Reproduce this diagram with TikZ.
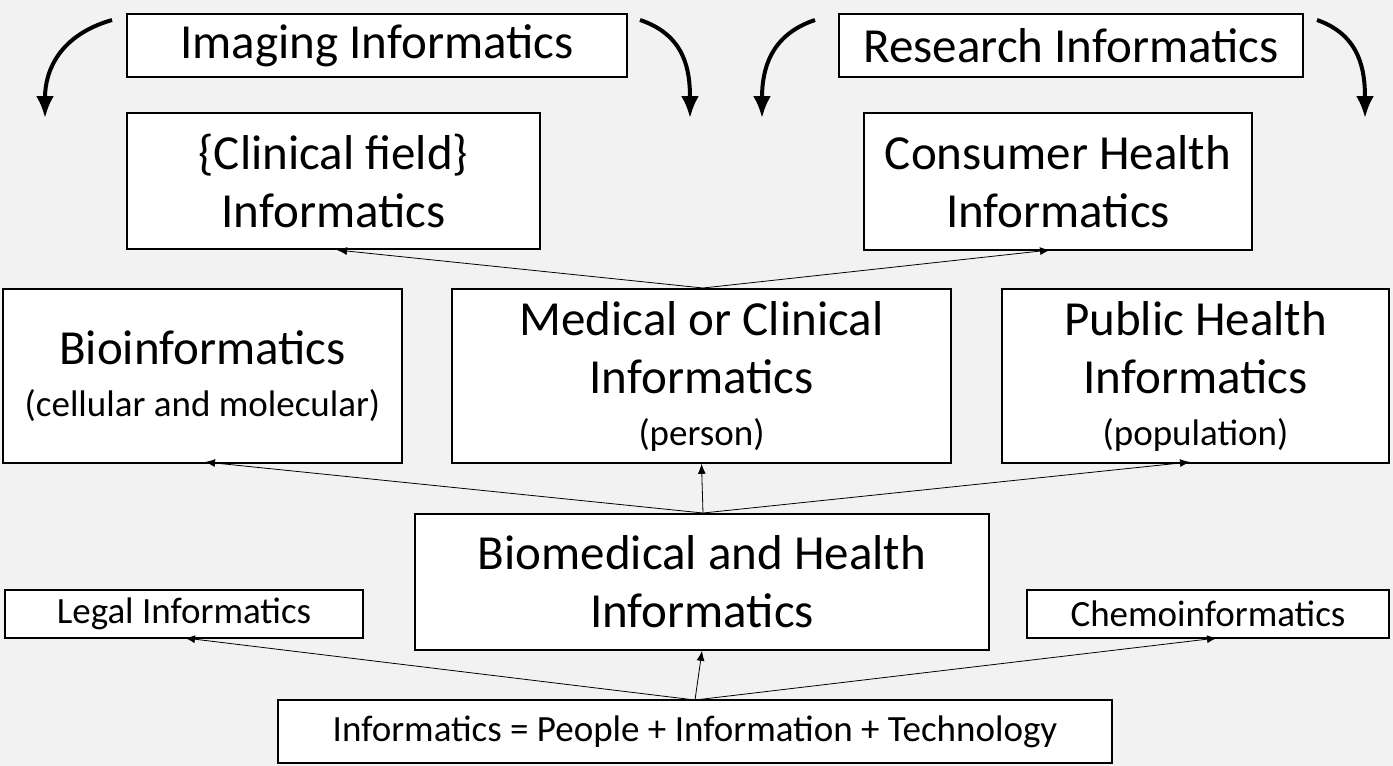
\documentclass[tikz,border=0pt]{standalone}
\usepackage{fontspec}
\setmainfont{Carlito}
\usetikzlibrary{arrows.meta}
\tikzset{
  box/.style={draw,thick,fill=white,align=center,inner sep=0pt},
  big/.style={font=\fontsize{24.5}{29}\selectfont},
  small/.style={font=\fontsize{18.5}{22}\selectfont},
  link/.style={-{Latex[length=5pt,width=4pt]},thin},
  swing/.style={-{Latex[length=11pt,width=9pt]},line width=2pt}
}
\newcommand{\sublabel}[1]{{\fontsize{18.5}{22}\selectfont #1}}
\begin{document}
\begin{tikzpicture}[x=0.5pt,y=-0.5pt]
\fill[gray!10] (0,0) rectangle (1393,766);
\useasboundingbox (0,0) rectangle (1393,766);
% top row
\node[box,big,minimum width=250pt,minimum height=31.5pt] (imaging) at (377,45.5) {Imaging Informatics};
\node[box,big,minimum width=232pt,minimum height=31.5pt] (research) at (1071,45.5) {Research Informatics};
\node[box,big,minimum width=206.5pt,minimum height=68pt] (clinfield) at (333.5,181) {\{Clinical field\}\\Informatics};
\node[box,big,minimum width=194pt,minimum height=68.5pt] (consumer) at (1058,181.5) {Consumer Health\\Informatics};
% middle row
\node[box,big,minimum width=199.5pt,minimum height=87pt] (bio) at (202.5,376) {Bioinformatics\\[-3pt]\sublabel{(cellular and molecular)}};
\node[box,big,minimum width=249.5pt,minimum height=87pt] (medical) at (701.5,376) {Medical or Clinical\\Informatics\\[-3pt]\sublabel{(person)}};
\node[box,big,minimum width=193.5pt,minimum height=87pt] (public) at (1195.5,376) {Public Health\\Informatics\\[-3pt]\sublabel{(population)}};
% lower rows
\node[box,big,minimum width=287pt,minimum height=68pt] (biomed) at (702,582) {Biomedical and Health\\Informatics};
\node[box,small,minimum width=179pt,minimum height=24pt] (legal) at (184,614) {Legal Informatics};
\node[box,small,minimum width=181pt,minimum height=24pt] (chemo) at (1208,614) {Chemoinformatics};
\node[box,small,minimum width=417pt,minimum height=31.5pt] (base) at (695,731.5) {Informatics = People + Information + Technology};
% connectors
\coordinate (bmtop) at (703,513);
\coordinate (mdtop) at (703,288);
\coordinate (btop) at (695,700);
\draw[link] (bmtop) -- (205,462);
\draw[link] (bmtop) -- (medical.south);
\draw[link] (bmtop) -- (1190,462);
\draw[link] (mdtop) -- (337,250);
\draw[link] (mdtop) -- (1050,250);
\draw[link] (btop) -- (185,638);
\draw[link] (btop) -- (biomed.south);
\draw[link] (btop) -- (1217,638);
% curved arrows
\draw[swing] (112,20) .. controls (60,35) and (45,70) .. (45,118);
\draw[swing] (640,20) .. controls (685,35) and (690,70) .. (690,118);
\draw[swing] (815,20) .. controls (770,35) and (762,70) .. (762,118);
\draw[swing] (1317,20) .. controls (1360,35) and (1365,70) .. (1365,118);
\end{tikzpicture}
\end{document}
